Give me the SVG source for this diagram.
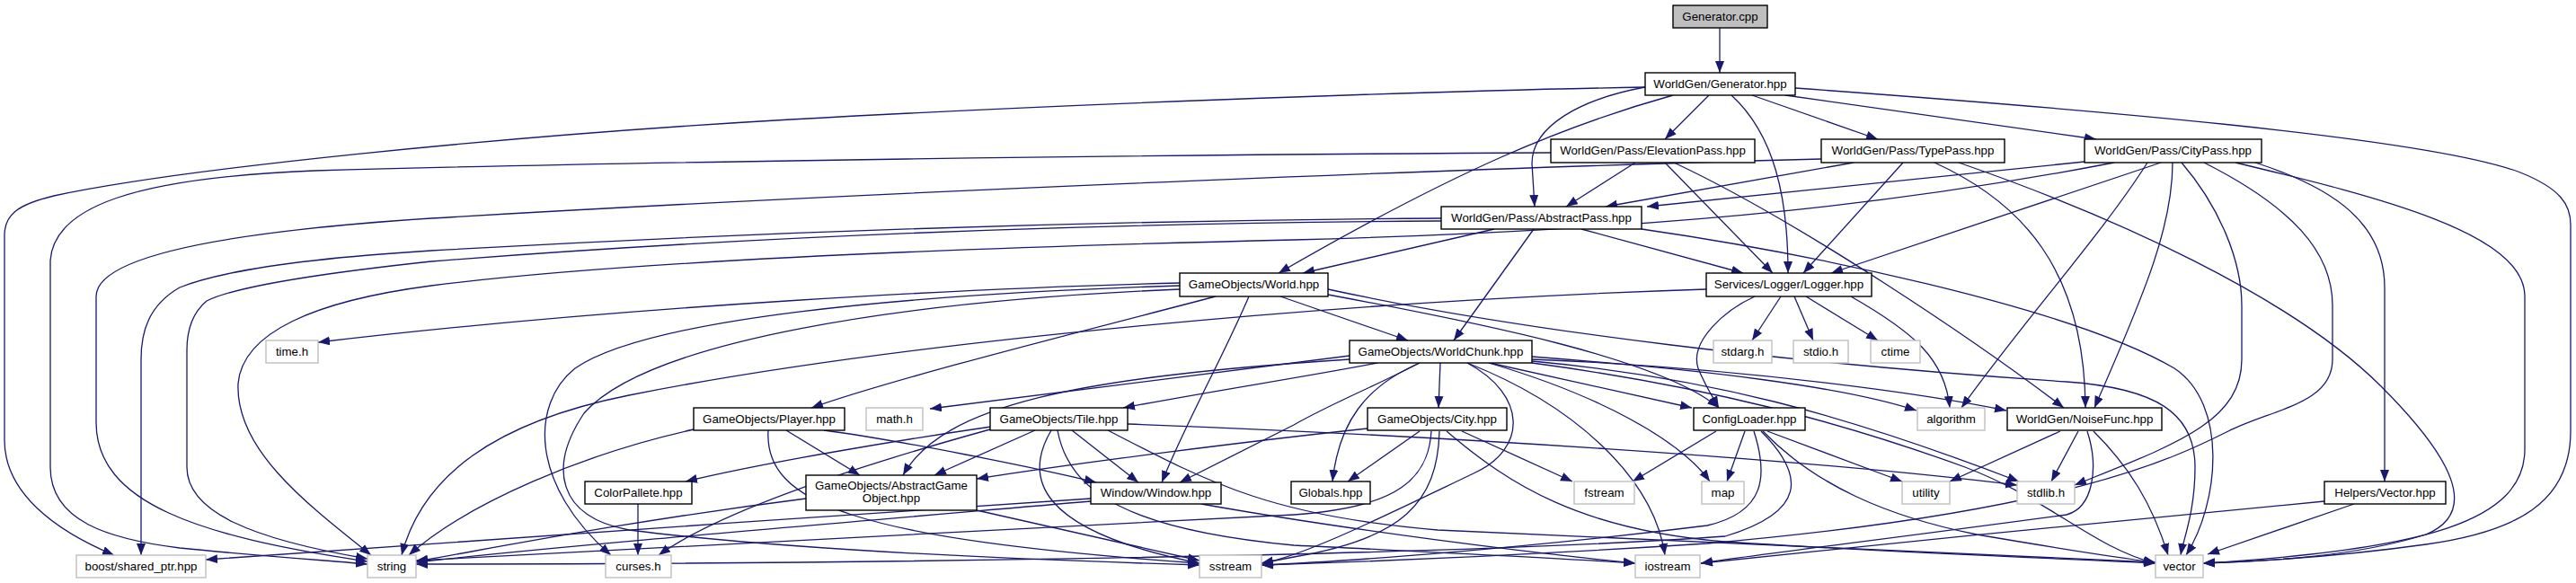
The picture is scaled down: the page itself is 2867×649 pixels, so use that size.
<svg xmlns="http://www.w3.org/2000/svg" width="2867" height="649" viewBox="0 0 2867 649">
<style>
.n rect{fill:#fff;stroke:#000;stroke-width:1.4}
.x rect{fill:#fff;stroke:#bfbfbf;stroke-width:1.4}
.r rect{fill:#bfbfbf;stroke:#000;stroke-width:1.4}
text{font-family:"Liberation Sans",Arial,sans-serif;font-size:13.3px;text-anchor:middle;fill:#000}
#edges path{fill:none;stroke:#191970;stroke-width:1.3;marker-end:url(#a)}
</style>
<defs>
<marker id="a" markerUnits="userSpaceOnUse" markerWidth="14" markerHeight="12" refX="13" refY="5" orient="auto"><path d="M0,0 L13,5 L0,10 z" fill="#191970"/></marker>
</defs>
<rect width="2867" height="649" fill="#fff"/>
<g id="edges">
<path d="M1914,31 L1914,81"/>
<path d="M1831,97 C1550,102 1150,118 880,133 C550,152 200,188 60,218 C18,228 5,240 5,262 L5,490 C5,548 60,590 127,618"/>
<path d="M1998,98 C2300,120 2700,152 2805,192 C2850,210 2861,228 2861,250 L2861,480 C2861,560 2800,592 2700,606 C2600,620 2510,625 2452,627"/>
<path d="M1902,106 L1853,155"/>
<path d="M1950,106 L2090,155"/>
<path d="M1987,106 L2333,155"/>
<path d="M1831,97 C1760,110 1705,140 1705,182 L1708,230"/>
<path d="M1862,106 C1740,140 1620,190 1423,304"/>
<path d="M1927,106 C1975,150 1990,220 1990,304"/>
<path d="M1820,181 L1743,230"/>
<path d="M1853,181 L1973,304"/>
<path d="M1863,181 C2000,245 2200,380 2297,454"/>
<path d="M1726,170 C1300,172 700,180 350,190 C150,198 60,230 56,290 L56,520 C56,580 120,600 200,610 C300,620 380,625 409,628"/>
<path d="M2063,181 L1787,230"/>
<path d="M2118,181 L2007,304"/>
<path d="M2153,181 C2250,225 2320,300 2321,454"/>
<path d="M2180,181 C2350,240 2550,330 2650,430 C2730,510 2760,570 2700,595 C2620,620 2520,625 2452,627"/>
<path d="M2027,177 C1700,185 1000,212 480,243 C250,258 107,285 107,330 L107,470 C107,560 220,597 409,625"/>
<path d="M2320,180 L1833,230"/>
<path d="M2353,181 C2150,220 1900,255 1440,267 C1100,275 700,290 480,318 C350,335 270,370 265,427 C262,500 340,560 413,618"/>
<path d="M2405,181 L2038,304"/>
<path d="M2390,181 C2340,260 2250,360 2183,454"/>
<path d="M2418,181 C2418,250 2390,320 2331,454"/>
<path d="M2428,181 C2470,230 2495,290 2495,340 L2495,400 C2495,470 2420,495 2309,540"/>
<path d="M2453,181 C2550,230 2596,280 2596,340 L2596,400 C2596,450 2530,455 2480,480 C2420,510 2300,570 1900,605 C1700,618 1500,626 1404,629"/>
<path d="M2488,181 C2650,220 2810,260 2810,330 L2810,500 C2810,580 2700,612 2452,627"/>
<path d="M2510,181 C2600,210 2654,250 2654,320 L2654,536"/>
<path d="M1663,255 L1450,304"/>
<path d="M1707,255 L1618,379"/>
<path d="M1760,255 L1940,304"/>
<path d="M1827,255 C2000,280 2300,340 2420,410 C2480,450 2470,560 2433,618"/>
<path d="M1604,243 C1300,245 900,255 480,279 C350,287 250,300 200,320 C165,340 157,370 157,400 L157,618"/>
<path d="M1604,246 C1300,248 900,258 480,291 C350,305 260,320 230,335 C212,350 208,370 208,390 L208,520 C208,570 280,600 409,622"/>
<path d="M1313,315 C1100,320 700,340 354,381"/>
<path d="M1353,330 C1200,370 1000,420 903,454"/>
<path d="M1390,330 C1360,400 1320,470 1293,537"/>
<path d="M1425,330 L1567,379"/>
<path d="M1478,328 C1650,360 1850,400 1913,454"/>
<path d="M1478,322 C1700,370 2000,405 2300,425 C2400,432 2443,460 2443,520 C2443,570 2430,600 2427,618"/>
<path d="M1313,322 C1000,335 720,380 650,460 C610,520 620,575 700,590 C900,615 1200,625 1335,629"/>
<path d="M1313,318 C1000,328 720,355 640,410 C590,450 590,540 680,618"/>
<path d="M1982,330 L1950,379"/>
<path d="M1997,330 L2018,379"/>
<path d="M2010,330 L2090,379"/>
<path d="M2060,330 C2130,370 2165,400 2170,454"/>
<path d="M1953,330 C1920,345 1880,380 1890,410 C1898,430 1908,445 1913,454"/>
<path d="M1899,322 C1500,335 1000,380 700,440 C550,470 470,530 447,618"/>
<path d="M1942,480 L1922,536"/>
<path d="M1910,480 L1817,536"/>
<path d="M1967,480 L2117,536"/>
<path d="M1962,480 C2020,540 2100,575 2200,595 C2300,612 2350,620 2399,626"/>
<path d="M1952,480 C1968,530 1965,570 1900,585 C1700,610 1500,625 1404,629"/>
<path d="M1960,480 C2010,530 2010,570 1920,597 C1600,620 900,628 463,628"/>
<path d="M2293,480 L2170,536"/>
<path d="M2313,480 L2283,536"/>
<path d="M2330,480 C2370,520 2395,560 2413,618"/>
<path d="M2323,480 C2336,520 2330,565 2300,573 C2100,600 1950,618 1893,627"/>
<path d="M2620,561 L2457,617"/>
<path d="M2587,558 C2450,570 2100,605 1893,627"/>
<path d="M1580,480 L1500,536"/>
<path d="M1627,480 L1750,536"/>
<path d="M1522,477 C1400,490 1200,515 1087,533"/>
<path d="M1593,480 C1590,530 1560,565 1440,573 C1100,590 700,612 463,624"/>
<path d="M1602,480 C1600,560 1560,600 1440,620 L1404,627"/>
<path d="M1610,480 C1680,540 1760,590 1920,603 C2100,615 2300,622 2399,627"/>
<path d="M1603,404 L1601,454"/>
<path d="M1580,404 C1520,430 1490,470 1483,536"/>
<path d="M1533,404 C1450,420 1350,435 1250,454"/>
<path d="M1502,396 L1035,455"/>
<path d="M1502,400 C1200,420 1050,450 1005,529"/>
<path d="M1580,404 C1530,430 1480,450 1440,473 L1313,537"/>
<path d="M1633,404 C1700,440 1700,500 1640,527 C1550,570 1450,620 1404,627"/>
<path d="M1633,404 C1750,450 1840,530 1853,618"/>
<path d="M1657,404 C1780,440 1870,490 1903,536"/>
<path d="M1658,404 L1883,454"/>
<path d="M1705,397 C1900,412 2050,430 2133,457"/>
<path d="M1705,400 C1950,410 2150,440 2233,457"/>
<path d="M1705,402 C1900,420 2050,460 2247,536"/>
<path d="M1705,404 C1900,430 2050,470 2187,520 C2280,555 2330,610 2399,627"/>
<path d="M1152,479 L1040,529"/>
<path d="M1193,479 L1267,537"/>
<path d="M1103,475 C1000,490 850,515 763,536"/>
<path d="M1102,478 C950,520 800,570 733,618"/>
<path d="M1170,479 C1140,530 1150,590 1335,627"/>
<path d="M1177,479 C1190,550 1260,590 1440,607 C1600,615 1750,622 1820,627"/>
<path d="M1233,479 C1350,540 1420,575 1600,590 C1900,605 2200,618 2399,626"/>
<path d="M1255,472 C1600,485 2000,510 2245,540"/>
<path d="M875,479 L957,529"/>
<path d="M855,479 C850,560 950,600 1335,627"/>
<path d="M772,478 C650,505 520,560 455,618"/>
<path d="M917,479 C1000,490 1150,520 1220,537"/>
<path d="M710,561 L710,618"/>
<path d="M1087,568 L1335,624"/>
<path d="M897,555 C700,580 550,610 463,625"/>
<path d="M1214,558 C900,585 600,610 463,626"/>
<path d="M1337,561 C1500,590 1700,615 1820,627"/>
<path d="M1214,555 C900,575 500,605 229,623"/>
</g>
<g id="n_gencpp" class="r"><rect x="1862" y="6" width="105" height="25"/><text x="1914.5" y="23">Generator.cpp</text></g>
<g id="n_genhpp" class="n"><rect x="1831" y="81" width="167" height="25"/><text x="1914.5" y="98">WorldGen/Generator.hpp</text></g>
<g id="n_elev" class="n"><rect x="1726" y="155" width="227" height="26"/><text x="1839.5" y="172">WorldGen/Pass/ElevationPass.hpp</text></g>
<g id="n_type" class="n"><rect x="2027" y="155" width="204" height="26"/><text x="2129" y="172">WorldGen/Pass/TypePass.hpp</text></g>
<g id="n_citypass" class="n"><rect x="2320" y="155" width="197" height="26"/><text x="2418.5" y="172">WorldGen/Pass/CityPass.hpp</text></g>
<g id="n_abspass" class="n"><rect x="1604" y="230" width="223" height="25"/><text x="1715.5" y="247">WorldGen/Pass/AbstractPass.hpp</text></g>
<g id="n_world" class="n"><rect x="1313" y="304" width="165" height="26"/><text x="1395.5" y="321">GameObjects/World.hpp</text></g>
<g id="n_logger" class="n"><rect x="1899" y="304" width="184" height="26"/><text x="1991" y="321">Services/Logger/Logger.hpp</text></g>
<g id="n_time" class="x"><rect x="296" y="379" width="58" height="25"/><text x="325" y="396">time.h</text></g>
<g id="n_chunk" class="n"><rect x="1502" y="379" width="203" height="25"/><text x="1603.5" y="396">GameObjects/WorldChunk.hpp</text></g>
<g id="n_stdarg" class="x"><rect x="1907" y="379" width="65" height="25"/><text x="1939.5" y="396">stdarg.h</text></g>
<g id="n_stdio" class="x"><rect x="1996" y="379" width="61" height="25"/><text x="2026.5" y="396">stdio.h</text></g>
<g id="n_ctime" class="x"><rect x="2082" y="379" width="55" height="25"/><text x="2109.5" y="396">ctime</text></g>
<g id="n_player" class="n"><rect x="772" y="454" width="168" height="25"/><text x="856" y="471">GameObjects/Player.hpp</text></g>
<g id="n_math" class="x"><rect x="964" y="454" width="63" height="25"/><text x="995.5" y="471">math.h</text></g>
<g id="n_tile" class="n"><rect x="1102" y="454" width="153" height="25"/><text x="1178.5" y="471">GameObjects/Tile.hpp</text></g>
<g id="n_city" class="n"><rect x="1522" y="454" width="155" height="25"/><text x="1599.5" y="471">GameObjects/City.hpp</text></g>
<g id="n_config" class="n"><rect x="1885" y="454" width="124" height="25"/><text x="1947" y="471">ConfigLoader.hpp</text></g>
<g id="n_algorithm" class="x"><rect x="2134" y="454" width="75" height="25"/><text x="2171.5" y="471">algorithm</text></g>
<g id="n_noise" class="n"><rect x="2234" y="454" width="172" height="25"/><text x="2320" y="471">WorldGen/NoiseFunc.hpp</text></g>
<g id="n_colorp" class="n"><rect x="651" y="536" width="119" height="25"/><text x="710.5" y="553">ColorPallete.hpp</text></g>
<g id="n_ago" class="n"><rect x="897" y="529" width="190" height="39"/><text x="992" y="545">GameObjects/AbstractGame</text><text x="992" y="559">Object.hpp</text></g>
<g id="n_window" class="n"><rect x="1214" y="537" width="145" height="24"/><text x="1286.5" y="553">Window/Window.hpp</text></g>
<g id="n_globals" class="n"><rect x="1437" y="536" width="88" height="25"/><text x="1481" y="553">Globals.hpp</text></g>
<g id="n_fstream" class="x"><rect x="1752" y="536" width="67" height="25"/><text x="1785.5" y="553">fstream</text></g>
<g id="n_map" class="x"><rect x="1894" y="536" width="47" height="25"/><text x="1917.5" y="553">map</text></g>
<g id="n_utility" class="x"><rect x="2117" y="536" width="53" height="25"/><text x="2143.5" y="553">utility</text></g>
<g id="n_stdlib" class="x"><rect x="2245" y="536" width="64" height="25"/><text x="2277" y="553">stdlib.h</text></g>
<g id="n_vech" class="n"><rect x="2587" y="536" width="135" height="25"/><text x="2654.5" y="553">Helpers/Vector.hpp</text></g>
<g id="n_boost" class="x"><rect x="85" y="618" width="144" height="25"/><text x="157" y="635">boost/shared_ptr.hpp</text></g>
<g id="n_string" class="x"><rect x="409" y="618" width="54" height="25"/><text x="436" y="635">string</text></g>
<g id="n_curses" class="x"><rect x="674" y="618" width="73" height="25"/><text x="710.5" y="635">curses.h</text></g>
<g id="n_sstream" class="x"><rect x="1335" y="618" width="69" height="25"/><text x="1369.5" y="635">sstream</text></g>
<g id="n_iostream" class="x"><rect x="1820" y="618" width="72" height="25"/><text x="1856" y="635">iostream</text></g>
<g id="n_vector" class="x"><rect x="2399" y="618" width="53" height="25"/><text x="2425.5" y="635">vector</text></g>
</svg>
